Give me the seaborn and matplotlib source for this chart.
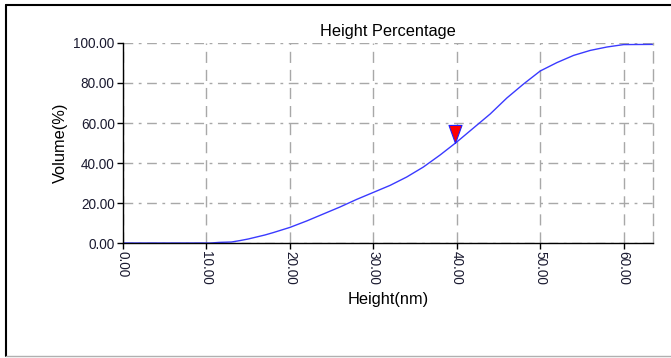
import matplotlib
matplotlib.use("Agg")
import matplotlib.pyplot as plt
from matplotlib.lines import Line2D
from matplotlib.path import Path
from matplotlib.markers import MarkerStyle
import seaborn as sns
import pandas as pd

# ---- data ----
height_nm = [0, 5, 10.5, 11.5, 13, 14, 15, 16, 17, 18, 20, 22, 24, 26, 28, 30, 32, 34, 36,
             38, 40, 42, 44, 46, 48, 50, 52, 54, 56, 58, 60, 63.5]
volume_pct = [0, 0, 0, 0.3, 0.5, 1.2, 2.0, 3.0, 4.0, 5.2, 7.8, 11.0, 14.5, 18.0, 21.8, 25.3,
              28.8, 33.0, 38.0, 44.0, 50.5, 57.5, 64.5, 72.5, 79.5, 86.0, 90.2, 93.8, 96.3,
              98.0, 99.2, 99.3]
marker_x = [39.8]
marker_y = [50.0]
x_ticks = [0, 10, 20, 30, 40, 50, 60]
y_ticks = [0, 20, 40, 60, 80, 100]
title = "Height Percentage"
x_label = "Height(nm)"
y_label = "Volume(%)"

sns.set_theme(style="white")
plt.rcParams["font.family"] = ["Liberation Sans", "DejaVu Sans"]

fig = plt.figure(figsize=(6.71, 3.58), dpi=100)
ax = fig.add_axes([0.1833, 0.3212, 0.7897, 0.5587])

df = pd.DataFrame({"h": height_nm, "v": volume_pct})
sns.lineplot(data=df, x="h", y="v", ax=ax, color="#3a3aff", linewidth=1.0,
             estimator=None, sort=False)

tri = Path([(-0.36, 1.0), (0.36, 1.0), (0.0, 0.0), (-0.36, 1.0)],
           [Path.MOVETO, Path.LINETO, Path.LINETO, Path.CLOSEPOLY])
ax.plot(marker_x, marker_y, linestyle="none", marker=MarkerStyle(tri), markersize=26,
        markerfacecolor="#ff0000", markeredgecolor="#2020ff", markeredgewidth=0.8, zorder=5)

ax.set_xlim(0, 63.5)
ax.set_ylim(0, 100)
ax.set_xticks(x_ticks)
ax.set_yticks(y_ticks)
ax.set_xticklabels([f"{t:.2f}" for t in x_ticks], rotation=270, fontsize=9.8, color="#1a1a30")
ax.set_yticklabels([f"{t:.2f}" for t in y_ticks], fontsize=9.8, color="#1a1a30")
ax.tick_params(axis="both", direction="out", length=4, width=1, color="#000000", pad=2,
               bottom=True, left=True)

ax.yaxis.grid(True, color="#a8a8a8", linewidth=1.0, linestyle=(0, (7, 4, 2, 4)))
ax.xaxis.grid(True, color="#a8a8a8", linewidth=1.0, linestyle=(0, (8, 5)))
ax.set_axisbelow(True)

for s in ["left", "bottom"]:
    ax.spines[s].set_color("#000000")
    ax.spines[s].set_linewidth(1.0)
ax.spines["top"].set_visible(False)
ax.spines["right"].set_color("#a8a8a8")
ax.spines["right"].set_linestyle((0, (8, 5)))
ax.spines["right"].set_linewidth(1.0)

ax.set_title(title, fontsize=11.8, color="#000000", pad=5)
ax.set_xlabel(x_label, fontsize=11.8, color="#000000", labelpad=5)
ax.set_ylabel(y_label, fontsize=11.8, color="#000000", labelpad=4)

# outer frame of the panel
fig.add_artist(Line2D([6/671, 1], [1 - 5/358, 1 - 5/358], color="#000000", linewidth=1.5))
fig.add_artist(Line2D([6/671, 6/671], [1 - 5/358, 2/358], color="#000000", linewidth=1.5))
fig.add_artist(Line2D([6/671, 1], [2/358, 2/358], color="#b0b0b0", linewidth=1.0))

fig.savefig("out.png", dpi=100)
